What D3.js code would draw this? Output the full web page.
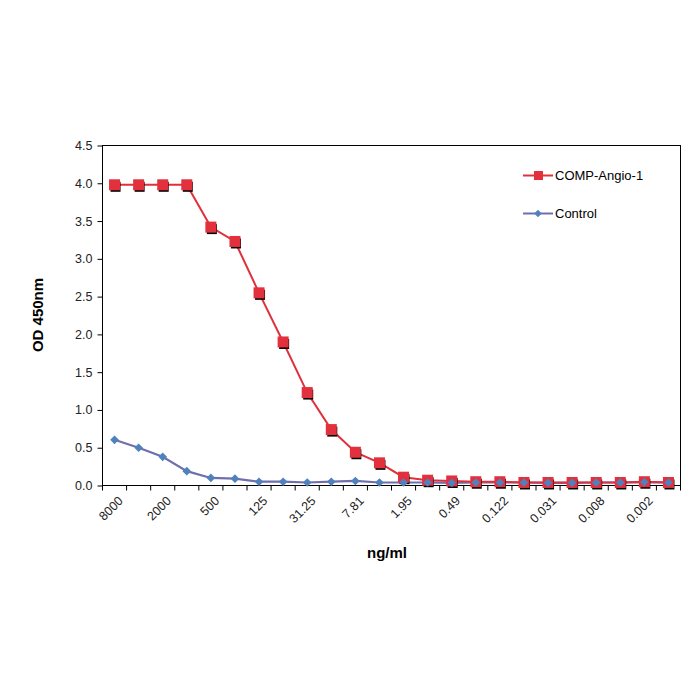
<!DOCTYPE html>
<html><head><meta charset="utf-8">
<script src="https://cdn.jsdelivr.net/npm/d3@7"></script>
<style>body{margin:0;background:#fff}text{font-family:"Liberation Sans",Arial,sans-serif}</style>
</head><body><svg id="c" width="700" height="700"></svg>
<script>
const concentrations=["8000","4000","2000","1000","500","250","125","62.5","31.25","15.63","7.81","3.91","1.95","0.98","0.49","0.244","0.122","0.061","0.031","0.015","0.008","0.004","0.002","0.001"];
const tickLabels=["8000","2000","500","125","31.25","7.81","1.95","0.49","0.122","0.031","0.008","0.002"];
const compAngio=[3.98,3.98,3.98,3.98,3.42,3.23,2.55,1.90,1.23,0.74,0.44,0.30,0.11,0.07,0.06,0.05,0.05,0.04,0.04,0.04,0.04,0.04,0.05,0.04];
const control=[0.605,0.50,0.38,0.19,0.10,0.09,0.05,0.05,0.04,0.05,0.06,0.04,0.04,0.04,0.035,0.04,0.04,0.04,0.035,0.035,0.04,0.04,0.045,0.04];
const yTicks=[0,0.5,1,1.5,2,2.5,3,3.5,4,4.5];

const svg=d3.select("#c");
const L=102.5,R=680.5,T=145.5,B=485.5;
const x=d3.scaleBand().domain(concentrations).range([L,R]);
const y=d3.scaleLinear().domain([0,4.5]).range([B,T]);
const cx=d=>x(d)+x.bandwidth()/2;

// frame
svg.append("rect").attr("x",L).attr("y",T).attr("width",R-L).attr("height",B-T).attr("fill","none").attr("stroke","#000").attr("stroke-width",1);

// y axis
const ya=svg.append("g").attr("transform",`translate(${L},0)`).call(d3.axisLeft(y).tickValues(yTicks).tickFormat(d3.format(".1f")).tickSize(5).tickSizeOuter(0));
ya.select(".domain").remove();
ya.selectAll("text").attr("font-size",12.5).attr("fill","#222").attr("dx",-2);

// x axis ticks between categories
const xb=svg.append("g");
d3.range(concentrations.length+1).forEach(i=>{
  const px=L+i*x.bandwidth();
  xb.append("line").attr("x1",px).attr("x2",px).attr("y1",B).attr("y2",B+5).attr("stroke","#000");
});
tickLabels.forEach(t=>{
  xb.append("text").attr("transform",`translate(${cx(t)+3},${B+10}) rotate(-45)`)
    .attr("text-anchor","end").attr("font-size",12.5).attr("fill","#222").attr("dy","0.7em").text(t);
});

// axis titles
svg.append("text").attr("transform","translate(43,315) rotate(-90)").attr("text-anchor","middle")
  .attr("font-size",15).attr("font-weight","bold").text("OD 450nm");
svg.append("text").attr("x",387).attr("y",558).attr("text-anchor","middle")
  .attr("font-size",15).attr("font-weight","bold").text("ng/ml");

const line=d3.line().x((d,i)=>cx(concentrations[i])).y(d=>y(d));

// control series
svg.append("path").datum(control).attr("d",line).attr("fill","none").attr("stroke","#6f6fae").attr("stroke-width",2.2);
// red series
svg.append("path").datum(compAngio).attr("d",line).attr("fill","none").attr("stroke","#e0303a").attr("stroke-width",2);
// red markers with shadow
const rs=svg.append("g");
compAngio.forEach((v,i)=>{
  const px=cx(concentrations[i]),py=y(v);
  rs.append("rect").attr("x",px-4).attr("y",py-3).attr("width",10).attr("height",10).attr("fill","#000");
  rs.append("rect").attr("x",px-5.5).attr("y",py-5.5).attr("width",11).attr("height",11).attr("fill","#e2303c");
});
// blue diamonds
const sym=d3.symbol().type(d3.symbolDiamond2).size(48);
svg.append("g").selectAll("path").data(control).join("path")
  .attr("d",sym).attr("transform",(d,i)=>`translate(${cx(concentrations[i])},${y(d)})`).attr("fill","#4f81bd");

// legend
const lg=svg.append("g");
lg.append("line").attr("x1",523).attr("x2",553).attr("y1",175.5).attr("y2",175.5).attr("stroke","#e0303a").attr("stroke-width",2);
lg.append("rect").attr("x",534).attr("y",171).attr("width",9).attr("height",9).attr("fill","#e2303c");
lg.append("text").attr("x",555).attr("y",180).attr("font-size",13).text("COMP-Angio-1");
lg.append("line").attr("x1",523).attr("x2",553).attr("y1",213.5).attr("y2",213.5).attr("stroke","#6f6fae").attr("stroke-width",2);
lg.append("path").attr("d",d3.symbol().type(d3.symbolDiamond2).size(36)).attr("transform","translate(538,213.5)").attr("fill","#4f81bd");
lg.append("text").attr("x",555).attr("y",218).attr("font-size",13).text("Control");
</script></body></html>
